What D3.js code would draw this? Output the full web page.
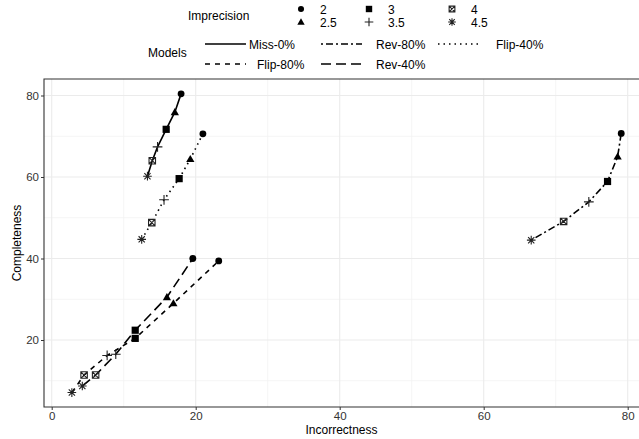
<script src="https://d3js.org/d3.v7.min.js"></script>
<style>
  body { margin: 0; background: white; }
  svg { font-family: "Liberation Sans", Arial, Helvetica, sans-serif; }
</style>
<body>
<script>
    var width = 639, height = 439;

    // data
    var imprecision = ["2", "2.5", "3", "3.5", "4", "4.5"];
    var models = ["Miss-0%", "Rev-80%", "Flip-40%", "Flip-80%", "Rev-40%"];

    var missX = [17.97, 17.1, 15.9, 14.7, 13.97, 13.3];
    var missY = [80.4, 75.9, 71.7, 67.4, 64.0, 60.2];
    var rev80X = [79.1, 78.6, 77.2, 74.6, 71.1, 66.6];
    var rev80Y = [70.7, 65.0, 58.9, 53.9, 49.1, 44.5];
    var flip40X = [21.0, 19.25, 17.7, 15.6, 13.9, 12.5];
    var flip40Y = [70.6, 64.4, 59.6, 54.4, 48.8, 44.7];
    var flip80X = [23.2, 16.9, 11.6, 7.7, 4.5, 2.8];
    var flip80Y = [39.4, 29.0, 20.4, 16.2, 11.4, 7.1];
    var rev40X = [19.6, 16.0, 11.6, 8.9, 6.1, 4.25];
    var rev40Y = [40.0, 30.5, 22.4, 16.5, 11.4, 8.7];

    var xTicks = [0, 20, 40, 60, 80];
    var yTicks = [20, 40, 60, 80];

    var seriesX = [missX, rev80X, flip40X, flip80X, rev40X];
    var seriesY = [missY, rev80Y, flip40Y, flip80Y, rev40Y];
    var dashes = ["none", "2,3,7,3", "1.5,4", "5,5", "10,5"];

    // panel box
    var panel = {left: 44, right: 639, top: 79, bottom: 407};

    var x = d3.scaleLinear().domain([0, 80]).range([51.7, 627.7]);
    var y = d3.scaleLinear().domain([20, 80]).range([340, 95.5]);

    var svg = d3.select("body").append("svg")
        .attr("width", width)
        .attr("height", height);

    // grid lines
    var minorX = [10, 30, 50, 70];
    var minorY = [10, 30, 50, 70];
    svg.selectAll(".gxm").data(minorX).enter().append("line")
        .attr("x1", d => x(d)).attr("x2", d => x(d))
        .attr("y1", panel.top).attr("y2", panel.bottom)
        .attr("stroke", "#f2f2f2").attr("stroke-width", 0.8);
    svg.selectAll(".gym").data(minorY).enter().append("line")
        .attr("y1", d => y(d)).attr("y2", d => y(d))
        .attr("x1", panel.left).attr("x2", panel.right)
        .attr("stroke", "#f2f2f2").attr("stroke-width", 0.8);
    svg.selectAll(".gx").data(xTicks).enter().append("line")
        .attr("x1", d => x(d)).attr("x2", d => x(d))
        .attr("y1", panel.top).attr("y2", panel.bottom)
        .attr("stroke", "#ebebeb").attr("stroke-width", 1.1);
    svg.selectAll(".gy").data(yTicks).enter().append("line")
        .attr("y1", d => y(d)).attr("y2", d => y(d))
        .attr("x1", panel.left).attr("x2", panel.right)
        .attr("stroke", "#ebebeb").attr("stroke-width", 1.1);

    // axes
    var xAxis = svg.append("g")
        .attr("transform", "translate(0," + panel.bottom + ")")
        .call(d3.axisBottom(x).tickValues(xTicks).tickSize(3).tickPadding(2));
    var yAxis = svg.append("g")
        .attr("transform", "translate(" + panel.left + ",0)")
        .call(d3.axisLeft(y).tickValues(yTicks).tickSize(3).tickPadding(2));
    [xAxis, yAxis].forEach(function(a) {
        a.select(".domain").remove();
        a.selectAll(".tick line").attr("stroke", "#333");
        a.selectAll(".tick text").attr("fill", "#333").style("font-size", "11.5px")
            .style("font-family", "'Liberation Sans', Arial, sans-serif");
    });

    // panel border lines (left, bottom, top)
    svg.append("path")
        .attr("d", "M" + panel.right + "," + panel.top + "H" + panel.left + "V" + panel.bottom + "H" + panel.right)
        .attr("fill", "none").attr("stroke", "#333").attr("stroke-width", 1.1);

    svg.append("text").attr("x", (panel.left + panel.right) / 2).attr("y", 434)
        .attr("text-anchor", "middle").style("font-size", "12px").text("Incorrectness");
    svg.append("text")
        .attr("transform", "translate(21," + ((panel.top + panel.bottom) / 2) + ") rotate(-90)")
        .attr("text-anchor", "middle").style("font-size", "12px").text("Completeness");

    // marker shapes like ggplot 16, 17, 15, 3, 7, 8
    function shape(i, s) {
        var p = d3.path();
        if (i === 0) { p.arc(0, 0, s * 0.95, 0, 2 * Math.PI); }
        else if (i === 1) { var h = s * 1.15; p.moveTo(0, -h); p.lineTo(h, h * 0.72); p.lineTo(-h, h * 0.72); p.closePath(); }
        else if (i === 2) { p.rect(-s, -s, 2 * s, 2 * s); }
        else if (i === 3) { var a = s * 1.35; p.moveTo(-a, 0); p.lineTo(a, 0); p.moveTo(0, -a); p.lineTo(0, a); }
        else if (i === 4) { var b = s * 0.9; p.rect(-b, -b, 2 * b, 2 * b); p.moveTo(-b, -b); p.lineTo(b, b); p.moveTo(b, -b); p.lineTo(-b, b); }
        else { var c = s * 1.2, d = c * 0.72; p.moveTo(-c, 0); p.lineTo(c, 0); p.moveTo(0, -c); p.lineTo(0, c);
               p.moveTo(-d, -d); p.lineTo(d, d); p.moveTo(d, -d); p.lineTo(-d, d); }
        return p.toString();
    }
    function drawShape(g, i, s) {
        var filled = i < 3;
        g.append("path").attr("d", shape(i, s))
            .attr("fill", filled ? "black" : "none")
            .attr("stroke", filled ? "none" : "#222")
            .attr("stroke-width", 1.1);
    }

    // lines
    var line = d3.line().x(d => x(d[0])).y(d => y(d[1]));
    models.forEach(function(m, k) {
        var pts = seriesX[k].map((v, j) => [v, seriesY[k][j]]).sort((a, b) => a[0] - b[0]);
        svg.append("path").attr("d", line(pts))
            .attr("fill", "none").attr("stroke", "black").attr("stroke-width", 1.6)
            .attr("stroke-dasharray", dashes[k]);
    });
    // points
    models.forEach(function(m, k) {
        seriesX[k].forEach(function(v, j) {
            var g = svg.append("g").attr("transform", "translate(" + x(v) + "," + y(seriesY[k][j]) + ")");
            drawShape(g, j, 3.6);
        });
    });

    // legend: Imprecision
    svg.append("text").attr("x", 188).attr("y", 20).style("font-size", "12px").text("Imprecision");
    var shapeCols = [301, 369, 452];
    imprecision.forEach(function(lab, j) {
        var col = Math.floor(j / 2), row = j % 2;
        var cx = shapeCols[col], cy = row === 0 ? 9 : 22;
        drawShape(svg.append("g").attr("transform", "translate(" + cx + "," + cy + ")"), j, 3.2);
        svg.append("text").attr("x", cx + 19).attr("y", cy + 4.5).style("font-size", "12px").text(lab);
    });

    // legend: Models
    svg.append("text").attr("x", 148).attr("y", 57).style("font-size", "12px").text("Models");
    var keyX = [205, 321, 438, 205, 321];
    var keyY = [44, 44, 44, 64, 64];
    var labX = [249, 376, 496, 257, 376];
    models.forEach(function(m, k) {
        svg.append("line").attr("x1", keyX[k]).attr("x2", keyX[k] + 41)
            .attr("y1", keyY[k]).attr("y2", keyY[k])
            .attr("stroke", "black").attr("stroke-width", 1.6)
            .attr("stroke-dasharray", dashes[k]);
        svg.append("text").attr("x", labX[k]).attr("y", keyY[k] + 4.5).style("font-size", "12px").text(m);
    });
</script>
</body>
